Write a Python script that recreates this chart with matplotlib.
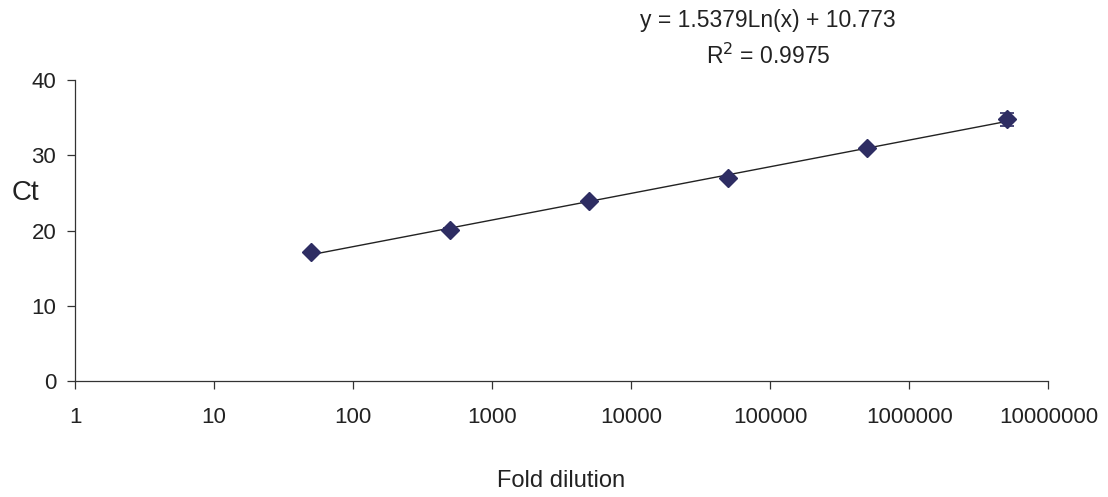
import numpy as np
import matplotlib.pyplot as plt

plt.rcParams['font.family'] = ['Liberation Sans', 'DejaVu Sans']

# standard curve: fold dilution vs Ct
dilution = [50, 500, 5000, 50000, 500000, 5000000]
ct = [17.1, 20.1, 23.9, 27.0, 30.9, 34.8]
ct_err = [0.2, 0.2, 0.15, 0.15, 0.15, 0.85]

# log trendline coefficients
slope = 1.5379
intercept = 10.773
r2 = 0.9975

fig = plt.figure(figsize=(11.08, 4.97), dpi=100)
ax = fig.add_axes([0.0677, 0.2334, 0.8785, 0.6056])

xs = np.logspace(np.log10(dilution[0]), np.log10(dilution[-1]), 100)
ax.plot(xs, slope * np.log(xs) + intercept, color='#222222', lw=1.0, zorder=2)

ax.errorbar(dilution, ct, yerr=ct_err, fmt='D', color='#2e2d63', ms=9,
            ecolor='#2e2d63', elinewidth=1.2, capsize=5, capthick=1.2, zorder=3)

ax.set_xscale('log')
ax.set_xlim(1, 1e7)
ax.set_ylim(0, 40)
ax.set_xticks([10 ** i for i in range(8)])
ax.set_xticklabels([str(10 ** i) for i in range(8)])
ax.xaxis.set_minor_locator(plt.NullLocator())
ax.set_yticks([0, 10, 20, 30, 40])

for s in ['top', 'right']:
    ax.spines[s].set_visible(False)
for s in ['left', 'bottom']:
    ax.spines[s].set_color('#333333')
    ax.spines[s].set_linewidth(0.9)
ax.tick_params(direction='out', length=5.5, width=0.9, color='#333333',
               labelsize=16, pad=8, labelcolor='#222222')
ax.tick_params(axis='x', pad=13)

fig.text(0.0226, 0.612, 'Ct', fontsize=20, ha='center', va='center',
         color='#222222')
fig.text(0.506, 0.032, 'Fold dilution', fontsize=17, ha='center',
         va='center', color='#222222')
fig.text(0.693, 0.958, 'y = %.4fLn(x) + %.3f' % (slope, intercept),
         fontsize=16.5, ha='center', va='center', color='#222222')
fig.text(0.693, 0.887, 'R$^2$ = %.4f' % r2,
         fontsize=16.5, ha='center', va='center', color='#222222')

fig.savefig('out.png', dpi=100)
